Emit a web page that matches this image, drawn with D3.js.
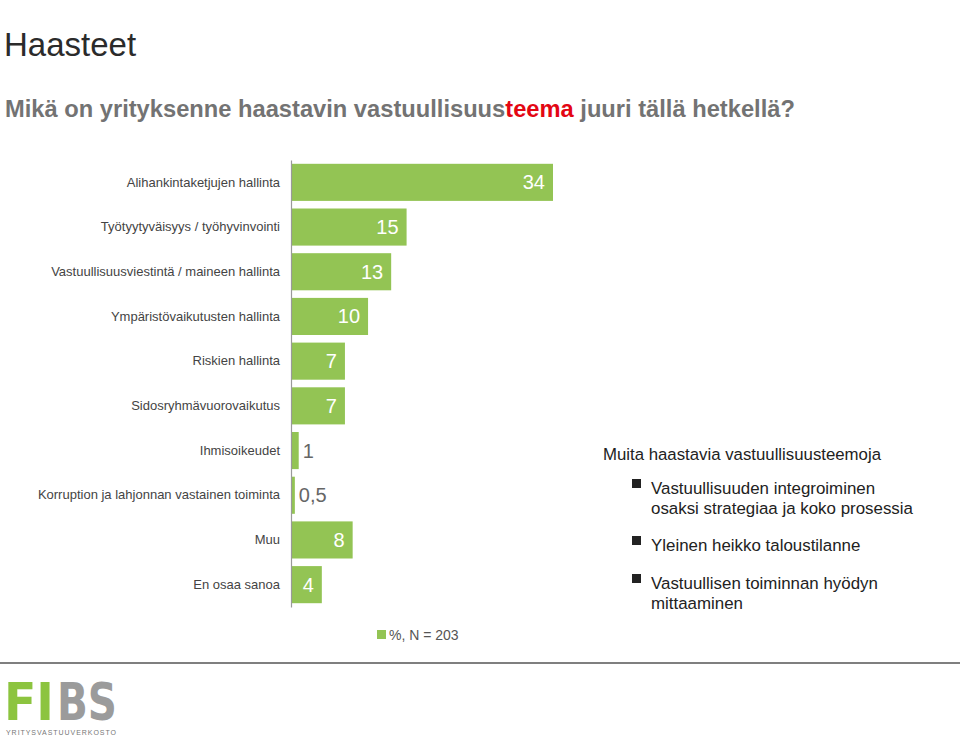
<!DOCTYPE html>
<html><head><meta charset="utf-8">
<script src="https://cdn.jsdelivr.net/npm/d3@7"></script>
<style>body{margin:0;background:#fff}svg{display:block;font-family:"Liberation Sans",Arial,sans-serif}</style>
</head><body>
<svg id="c" width="960" height="737"></svg>
<script>
const categories = ["Alihankintaketjujen hallinta","Työtyytyväisyys / työhyvinvointi","Vastuullisuusviestintä / maineen hallinta","Ympäristövaikutusten hallinta","Riskien hallinta","Sidosryhmävuorovaikutus","Ihmisoikeudet","Korruption ja lahjonnan vastainen toiminta","Muu","En osaa sanoa"];
const values = [34,15,13,10,7,7,1,0.5,8,4];
const valueLabels = ["34","15","13","10","7","7","1","0,5","8","4"];
const otherTitle = "Muita haastavia vastuullisuusteemoja";
const otherItems = [["Vastuullisuuden integroiminen","osaksi strategiaa ja koko prosessia"],["Yleinen heikko taloustilanne"],["Vastuullisen toiminnan hyödyn","mittaaminen"]];
const legendLabel = "%, N = 203";

const svg = d3.select("#c");
const green = "#93c454";

// Title
svg.append("text").attr("x",4).attr("y",56).attr("font-size",33).attr("fill","#2b2b2b").text("Haasteet");
const st = svg.append("text").attr("x",5).attr("y",117).attr("font-size",23.7).attr("font-weight","bold").attr("fill","#737373");
st.append("tspan").text("Mikä on yrityksenne haastavin vastuullisuus");
st.append("tspan").attr("fill","#e30613").text("teema");
st.append("tspan").text(" juuri tällä hetkellä?");

// chart
const x0 = 291;
const x = d3.scaleLinear().domain([0,34]).range([x0, 553]);
const y = d3.scaleBand().domain(categories).range([160,607]).paddingInner(0.17).paddingOuter(0.085);

svg.append("g").selectAll("rect").data(values).join("rect")
  .attr("x", x0).attr("y",(d,i)=>y(categories[i]))
  .attr("width", d=>x(d)-x0).attr("height", y.bandwidth()).attr("fill", green);

const yAxis = d3.axisLeft(y).tickSize(0).tickPadding(11);
const ga = svg.append("g").attr("transform",`translate(${x0},0)`).call(yAxis);
ga.select(".domain").attr("stroke","#9a9a9a").attr("stroke-width",1.2);
ga.selectAll("text").attr("font-size",13).attr("fill","#444").attr("font-family","Liberation Sans, Arial, sans-serif");

svg.append("g").selectAll("text").data(values).join("text")
  .attr("x",(d,i)=> d>=3 ? x(d)-8 : x(d)+4)
  .attr("y",(d,i)=>y(categories[i])+y.bandwidth()/2+7)
  .attr("text-anchor",(d)=> d>=3 ? "end" : "start")
  .attr("font-size",20)
  .attr("fill",(d)=> d>=3 ? "#fff" : "#666")
  .text((d,i)=>valueLabels[i]);

// legend
svg.append("rect").attr("x",377).attr("y",630).attr("width",9).attr("height",9).attr("fill",green);
svg.append("text").attr("x",389).attr("y",640).attr("font-size",14).attr("fill","#555").text(legendLabel);

// other themes
svg.append("text").attr("x",603).attr("y",460).attr("font-size",16.8).attr("fill","#222").text(otherTitle);
const itemY = [489, 546, 584];
otherItems.forEach((lines,i)=>{
  svg.append("rect").attr("x",632).attr("y",itemY[i]-10).attr("width",9).attr("height",9).attr("fill","#222");
  lines.forEach((l,j)=>{
    svg.append("text").attr("x",651).attr("y",itemY[i]+5+j*20).attr("font-size",16.9).attr("fill","#222").text(l);
  });
});

// bottom line
svg.append("line").attr("x1",0).attr("x2",960).attr("y1",663).attr("y2",663).attr("stroke","#555").attr("stroke-width",1.5);

// logo
svg.append("text").attr("x",4).attr("y",720).attr("font-size",52).attr("font-weight","bold").attr("font-family","DejaVu Sans, sans-serif").attr("textLength",50).attr("lengthAdjust","spacingAndGlyphs").attr("fill","#8cc43f").text("FI");
svg.append("text").attr("x",57).attr("y",720).attr("font-size",52).attr("font-weight","bold").attr("font-family","DejaVu Sans, sans-serif").attr("textLength",60).attr("lengthAdjust","spacingAndGlyphs").attr("fill","#9b9b9b").text("BS");
svg.append("text").attr("x",6).attr("y",735).attr("font-size",7).attr("fill","#777").attr("textLength",110).attr("lengthAdjust","spacing").text("YRITYSVASTUUVERKOSTO");
</script>
</body></html>
